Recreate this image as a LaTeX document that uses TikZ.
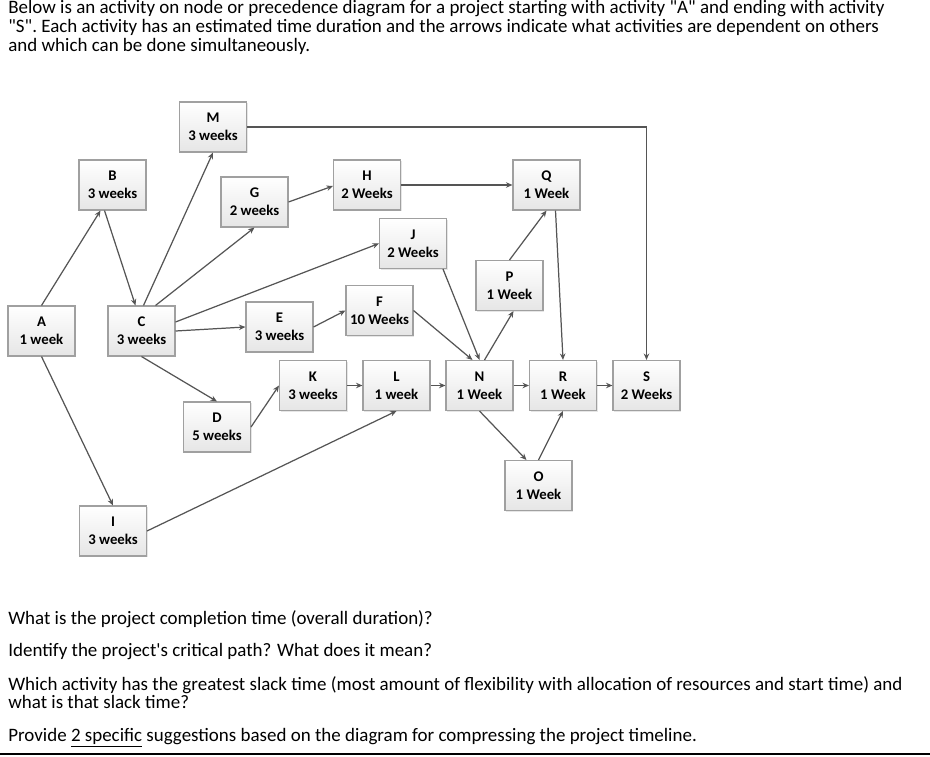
\documentclass[tikz,border=0pt]{standalone}
\usepackage{fontspec}
\setmainfont{Carlito}
\usetikzlibrary{arrows.meta,calc,shadows}
\definecolor{boxline}{RGB}{160,160,160}
\definecolor{linkgray}{RGB}{85,85,85}

\begin{document}
\begin{tikzpicture}[
      x=0.02cm, y=-0.02cm,
      act/.style={draw=boxline,line width=0.6pt,top color=white,bottom color=black!10,
                  minimum width=1.34cm,minimum height=1cm,align=center,inner sep=1pt,
                  font=\fontsize{8.4}{10.2}\selectfont\bfseries,
                  drop shadow={opacity=0.2,shadow xshift=0.6pt,shadow yshift=-0.6pt}},
      link/.style={-{Stealth[length=1.3mm,width=1.1mm]},draw=linkgray,line width=0.7pt},
      prose/.style={anchor=base west,inner sep=0pt,font=\fontsize{10.8}{13}\selectfont}
    ]
    \useasboundingbox (0,0) rectangle (930,757);

    % text above the diagram
    \foreach \yy/\txt [count=\i] in {
        14/{Below is an activity on node or precedence diagram for a project starting with activity \textquotedbl A\textquotedbl{} and ending with activity},
        33/{\textquotedbl S\textquotedbl.  Each activity has an estimated time duration and the arrows indicate what activities are dependent on others},
        52/{and which can be done simultaneously.}}
      \node[prose] (head\i) at (8,\yy) {\txt};

    % activities
    \node[act] (A) at (41.5,331) {A\\1 week};
    \node[act] (B) at (112.5,185) {B\\3 weeks};
    \node[act] (C) at (141.5,331) {C\\3 weeks};
    \node[act] (M) at (213,127) {M\\3 weeks};
    \node[act] (G) at (254.5,202) {G\\2 weeks};
    \node[act] (E) at (279.5,327) {E\\3 weeks};
    \node[act] (D) at (217,427) {D\\5 weeks};
    \node[act] (I) at (113,531) {I\\3 weeks};
    \node[act] (H) at (367,185) {H\\2 Weeks};
    \node[act] (Q) at (546.5,185) {Q\\1 Week};
    \node[act] (J) at (413,243.5) {J\\2 Weeks};
    \node[act] (P) at (509.5,285.5) {P\\1 Week};
    \node[act] (F) at (379.5,310.5) {F\\10 Weeks};
    \node[act] (K) at (313,385.5) {K\\3 weeks};
    \node[act] (L) at (396.5,385.5) {L\\1 week};
    \node[act] (N) at (479.5,385.5) {N\\1 Week};
    \node[act] (R) at (563,385.5) {R\\1 Week};
    \node[act] (S) at (646.5,385.5) {S\\2 Weeks};
    \node[act] (O) at (538.5,485.5) {O\\1 Week};

    % dependencies
    \draw[link] (A.north) -- ($(B.south)+(-12,0)$);
    \draw[link] (A.south) -- (I.north);
    \draw[link] ($(B.south)+(-8,0)$) -- ($(C.north)+(-6,0)$);
    \draw[link] ($(C.north)+(2,0)$) -- (M.south);
    \draw[link] ($(C.north)+(14,0)$) -- (G.south);
    \draw[link] ($(C.east)+(0,-9)$) -- (J.west);
    \draw[link] (C.east) -- (E.west);
    \draw[link] (C.south) -- (D.north);
    \draw[link] (G.east) -- ($(H.west)+(0,1)$);
    \draw[link] (H.east) -- (Q.west);
    \draw[link] (M.east) -| (S.north);
    \draw[link] (E.east) -- (F.west);
    \draw[link] (D.east) -- (K.west);
    \draw[link] (I.east) -- (L.south);
    \draw[link] (K.east) -- (L.west);
    \draw[link] (L.east) -- (N.west);
    \draw[link] (N.east) -- (R.west);
    \draw[link] (R.east) -- (S.west);
    \draw[link] (F.east) -- ($(N.north)+(-7,0)$);
    \draw[link] ($(J.south)+(30,0)$) -- (N.north);
    \draw[link] ($(N.north)+(5,0)$) -- ($(P.south)+(4,0)$);
    \draw[link] (P.north) -- (Q.south);
    \draw[link] ($(Q.south)+(9,0)$) -- (R.north);
    \draw[link] (N.south) -- ($(O.north)+(-12,0)$);
    \draw[link] (O.north) -- (R.south);

    % questions
    \foreach \yy/\txt [count=\i] in {
        624/{What is the project completion time (overall duration)?},
        656/{Identify the project\textquotesingle s critical path?  What does it mean?},
        690/{Which activity has the greatest slack time (most amount of flexibility with allocation of resources and start time) and},
        708/{what is that slack time?},
        741/{Provide \underline{2 specific} suggestions based on the diagram for compressing the project timeline.}}
      \node[prose] (ask\i) at (8,\yy) {\txt};

    \draw[line width=1.7pt] (0,754) -- (930,754);
  \end{tikzpicture}
\end{document}
